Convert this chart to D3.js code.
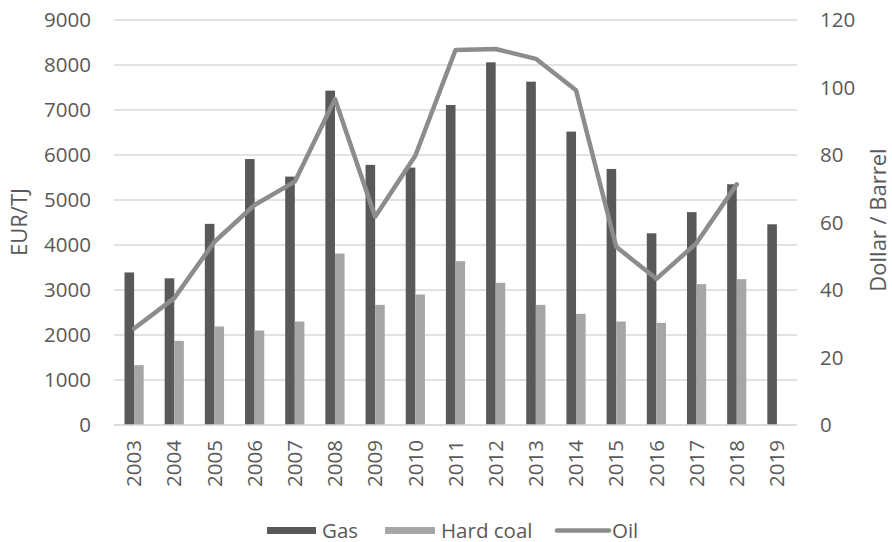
<!DOCTYPE html>
<html><head><meta charset="utf-8">
<script src="https://cdn.jsdelivr.net/npm/d3@7/dist/d3.min.js"></script>
<style>body{margin:0;background:#fff}svg{display:block}text{font-family:"Open Sans",sans-serif;fill:#595959}</style>
</head><body><svg id="c" width="892" height="542"></svg>
<script>
const years = ["2003","2004","2005","2006","2007","2008","2009","2010","2011","2012","2013","2014","2015","2016","2017","2018","2019"];
const gas = [3390,3260,4470,5910,5520,7430,5780,5720,7110,8060,7630,6520,5690,4260,4730,5350,4460];
const hardCoal = [1330,1870,2190,2100,2300,3810,2670,2900,3640,3160,2670,2470,2300,2270,3130,3240,null];
const oil = [28.6,37.6,54.3,65.2,72.1,96.6,61.7,79.8,111.1,111.4,108.5,99.2,52.8,43.3,53.9,71.3,null];
const leftTicks = [0,1000,2000,3000,4000,5000,6000,7000,8000,9000];
const rightTicks = [0,20,40,60,80,100,120];
const seriesNames = ["Gas","Hard coal","Oil"];
const colors = {gas:"#595959", coal:"#a6a6a6", oil:"#8c8c8c", grid:"#d9d9d9"};

const svg = d3.select("#c");
const L = 114, R = 797, T = 20, B = 425;
const FS = "20.5px";
const x = d3.scaleBand().domain(years).range([L, R]);
const yL = d3.scaleLinear().domain([0, 9000]).range([B, T]);
const yR = d3.scaleLinear().domain([0, 120]).range([B, T]);
const bw = 9.6;

// gridlines
svg.append("g").selectAll("line").data(leftTicks).join("line")
  .attr("x1", L).attr("x2", R).attr("y1", d => yL(d)).attr("y2", d => yL(d))
  .attr("stroke", colors.grid).attr("stroke-width", 1.5);

// left axis
const ga = svg.append("g").attr("transform", `translate(${L},0)`)
  .call(d3.axisLeft(yL).tickValues(leftTicks).tickSize(0).tickPadding(23).tickFormat(d3.format("d")));
ga.select(".domain").remove();
ga.selectAll("text").style("font-size", FS).attr("fill", "#595959");

// right axis
const gr = svg.append("g").attr("transform", `translate(${R},0)`)
  .call(d3.axisRight(yR).tickValues(rightTicks).tickSize(0).tickPadding(23));
gr.select(".domain").remove();
gr.selectAll("text").style("font-size", FS).attr("fill", "#595959");

// bars
const c = d => x(d) + x.bandwidth() / 2;
svg.append("g").selectAll("rect").data(years.map((y, i) => ({y, v: gas[i]}))).join("rect")
  .attr("x", d => c(d.y) - bw).attr("width", bw)
  .attr("y", d => yL(d.v)).attr("height", d => B - yL(d.v)).attr("fill", colors.gas);
svg.append("g").selectAll("rect").data(years.map((y, i) => ({y, v: hardCoal[i]})).filter(d => d.v != null)).join("rect")
  .attr("x", d => c(d.y)).attr("width", bw)
  .attr("y", d => yL(d.v)).attr("height", d => B - yL(d.v)).attr("fill", colors.coal);

// bottom axis line
svg.append("line").attr("x1", L).attr("x2", R).attr("y1", B).attr("y2", B)
  .attr("stroke", colors.grid).attr("stroke-width", 1.5);

// x axis labels
const gx = svg.append("g").attr("transform", `translate(0,${B})`)
  .call(d3.axisBottom(x).tickSize(0).tickPadding(0));
gx.select(".domain").remove();
gx.selectAll("text").style("font-size", FS).attr("fill", "#595959")
  .attr("transform", "rotate(-90)").attr("text-anchor", "end")
  .attr("x", -15).attr("y", 0).attr("dy", "0.35em");

// oil line
const oilData = years.map((y, i) => ({y, v: oil[i]})).filter(d => d.v != null);
svg.append("path").datum(oilData)
  .attr("d", d3.line().x(d => c(d.y)).y(d => yR(d.v)))
  .attr("fill", "none").attr("stroke", colors.oil).attr("stroke-width", 4.5)
  .attr("stroke-linejoin", "round").attr("stroke-linecap", "round");

// axis titles
svg.append("text").attr("transform", "translate(27,222) rotate(-90)")
  .attr("text-anchor", "middle").style("font-size", "22px").text("EUR/TJ");
svg.append("text").attr("transform", "translate(886,220) rotate(-90)")
  .attr("text-anchor", "middle").style("font-size", "22px").text("Dollar / Barrel");

// legend
const lg = svg.append("g");
lg.append("rect").attr("x", 267).attr("y", 527).attr("width", 49).attr("height", 7).attr("fill", colors.gas);
lg.append("text").attr("x", 322).attr("y", 537.5).style("font-size", FS).text(seriesNames[0]);
lg.append("rect").attr("x", 385).attr("y", 527).attr("width", 50).attr("height", 7).attr("fill", colors.coal);
lg.append("text").attr("x", 441).attr("y", 537.5).style("font-size", FS).text(seriesNames[1]);
lg.append("line").attr("x1", 557).attr("x2", 609).attr("y1", 530.5).attr("y2", 530.5)
  .attr("stroke", colors.oil).attr("stroke-width", 4.5).attr("stroke-linecap", "round");
lg.append("text").attr("x", 612).attr("y", 537.5).style("font-size", FS).text(seriesNames[2]);
</script></body></html>
